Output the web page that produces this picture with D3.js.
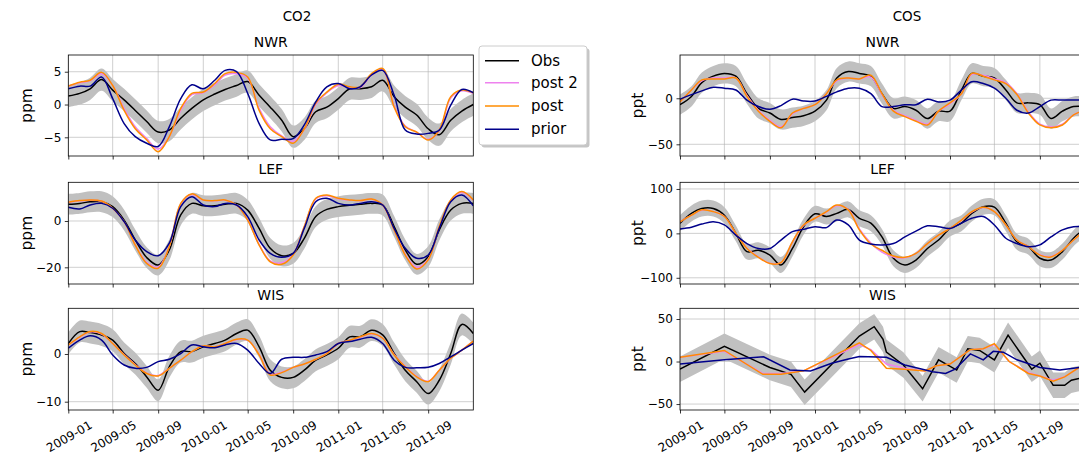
<!DOCTYPE html>
<html>
<head>
<meta charset="utf-8">
<script src="https://cdn.jsdelivr.net/npm/d3@7"></script>
<style>
  body { margin: 0; background: #fff; }
  text { font-family: "DejaVu Sans", sans-serif; fill: #000; }
</style>
</head>
<body>
<svg id="chart" width="1079" height="460"></svg>
<script>
// monthly time axis, 2009-01 .. 2012-01
var months = d3.timeMonth.range(new Date(2009, 0, 1), new Date(2012, 0, 2));
var xTickLabels = ["2009-01", "2009-05", "2009-09", "2010-01", "2010-05",
  "2010-09", "2011-01", "2011-05", "2011-09"];
var seriesNames = ["Obs", "post 2", "post", "prior"];
var seriesColors = ["#000000", "#ee82ee", "#ff8c00", "#00008b"];

// ---- CO2 (ppm) ----
var co2NwrObs   = [1.3,1.7,2.4,3.8,2.2,0.7,-0.9,-2.6,-4.2,-3.9,-2.1,-0.6,0.7,1.6,2.3,2.9,3.5,1.4,-0.4,-2.4,-4.9,-3.7,-1.1,-0.4,0.9,2.4,2.4,2.7,3.7,1.2,-0.4,-1.6,-3.7,-4.6,-2.4,-1.0,0.0];
var co2NwrPost2 = [2.8,3.3,3.6,4.7,2.9,-0.6,-3.4,-5.2,-6.8,-4.9,-0.9,1.5,1.8,3.0,4.5,4.7,4.0,-0.6,-3.4,-4.8,-5.6,-3.8,0.0,1.8,2.9,2.6,2.6,4.5,5.3,-0.2,-3.3,-4.2,-5.3,-4.0,1.0,2.1,1.7];
var co2NwrPost  = [2.8,3.4,3.7,4.9,2.9,-0.9,-3.7,-5.4,-7.2,-4.9,-0.6,1.7,1.9,3.2,4.7,4.9,4.2,-0.9,-3.7,-4.9,-5.9,-3.7,0.2,1.9,3.1,2.7,2.7,4.7,5.5,-0.4,-3.4,-4.2,-5.4,-3.9,1.2,2.2,1.8];
var co2NwrPrior = [2.4,2.8,2.8,4.2,0.9,-2.9,-4.9,-5.9,-6.4,-3.4,0.9,3.0,2.4,3.7,5.2,5.0,1.7,-2.9,-5.4,-5.3,-5.2,-3.1,0.4,2.7,3.2,2.4,2.7,4.5,5.2,1.4,-3.9,-4.5,-4.4,-3.9,-0.1,2.3,1.8];

var co2LefObs   = [7.2,7.6,8.3,8.3,6.2,0.4,-8.2,-15.8,-19.0,-12.5,2.6,7.6,6.6,6.6,7.2,7.6,4.7,-3.2,-11.8,-15.0,-14.0,-7.5,1.9,5.0,6.2,6.8,7.2,7.6,6.9,-2.4,-12.5,-18.7,-15.4,-3.9,4.7,7.6,7.6];
var co2LefPost2 = [8.0,8.7,9.0,8.5,5.5,-0.3,-10.2,-17.8,-19.8,-11.0,7.4,11.4,9.0,8.7,9.0,6.9,0.5,-10.2,-17.2,-18.0,-14.4,-2.5,9.5,10.9,9.6,9.0,8.7,9.4,6.9,-3.8,-14.4,-20.0,-16.5,-2.6,8.8,12.3,9.0];
var co2LefPost  = [8.1,8.8,9.1,8.6,5.5,-0.3,-10.4,-18.3,-20.4,-11.1,7.6,11.7,9.1,8.8,9.1,6.9,0.4,-10.4,-17.6,-18.7,-14.7,-2.4,9.8,11.2,9.8,9.1,8.8,9.5,6.9,-3.9,-14.7,-20.7,-16.8,-2.4,9.1,12.7,9.1];
var co2LefPrior = [5.9,5.2,6.9,7.6,5.5,-0.3,-8.2,-13.2,-15.0,-9.6,6.2,10.5,6.9,6.2,7.6,6.9,1.9,-8.2,-14.0,-15.7,-14.0,-3.2,8.3,9.8,7.6,6.9,7.6,8.3,6.9,-3.2,-11.8,-16.1,-14.7,-3.2,8.3,11.2,6.5];

var co2WisObs   = [2.2,4.7,4.5,4.0,2.9,0.1,-2.0,-4.8,-7.6,-2.7,0.5,0.5,1.5,2.2,2.9,4.3,5.0,1.5,-3.4,-4.9,-4.9,-3.4,-1.3,-0.2,1.2,3.6,3.6,5.0,4.0,0.1,-3.4,-5.8,-8.3,-5.5,0.1,6.2,4.3];
var co2WisPost2 = [1.9,3.5,4.6,4.2,2.2,-0.1,-2.2,-4.0,-4.5,-3.0,-1.3,0.5,1.7,1.5,2.2,3.0,2.9,-0.1,-4.2,-3.8,-2.8,-2.1,-1.1,0.1,2.2,2.9,3.5,4.2,3.3,-0.1,-2.6,-4.7,-5.7,-3.4,-0.9,0.8,2.7];
var co2WisPost  = [1.9,3.6,4.7,4.3,2.2,-0.2,-2.3,-4.1,-4.6,-3.0,-1.3,0.5,1.7,1.5,2.2,3.1,2.9,-0.2,-4.4,-3.9,-2.8,-2.1,-1.1,0.1,2.2,2.9,3.6,4.3,3.3,-0.2,-2.7,-4.8,-5.8,-3.4,-0.9,0.8,2.7];
var co2WisPrior = [1.2,2.9,3.8,2.9,-0.2,-2.3,-3.0,-2.8,-1.6,-1.1,0.1,1.9,1.5,1.3,1.9,2.2,0.8,-2.0,-4.1,-1.1,-0.7,-0.7,-0.2,0.5,2.2,2.6,3.1,3.5,2.2,-1.3,-2.8,-2.9,-2.8,-2.0,-0.6,0.8,2.2];

// ---- COS (ppt) ----
var cosNwrObs   = [-7,2,17,24,27,24,5,-11,-16,-23,-21,-19,-14,-2,22,29,27,24,5,-11,-9,-13,-22,-14,-14,9,27,24,22,9,-5,-5,-7,-22,-14,-9,-9];
var cosNwrPost2 = [-4,9,19,22,22,22,3,-13,-24,-31,-17,-11,-7,5,19,22,21,23,4,-13,-19,-24,-28,-14,-6,5,26,25,21,17,5,-15,-28,-31,-28,-18,-13];
var cosNwrPost  = [-4,9,20,21,21,22,2,-14,-25,-32,-16,-11,-7,5,20,22,21,25,5,-14,-20,-25,-29,-14,-5,5,27,24,20,16,4,-16,-29,-32,-29,-18,-13];
var cosNwrPrior = [-1,4,8,12,11,9,-2,-9,-12,-8,-1,-3,-3,2,7,11,11,5,-9,-9,-7,-7,-1,-4,-2,9,18,16,11,0,-13,-16,-9,-2,-2,-2,-2];

var cosLefObs   = [23,45,56,56,41,0,-41,-38,-49,-71,-34,15,44,38,45,54,34,23,-8,-56,-71,-60,-34,-15,11,23,45,60,59,23,-19,-30,-56,-60,-41,-11,11];
var cosLefPost2 = [26,41,52,49,38,0,-33,-53,-67,-66,-20,18,34,48,62,54,10,-22,-42,-53,-55,-45,-23,-4,11,29,48,58,49,19,-15,-30,-48,-52,-38,-15,8];
var cosLefPost  = [26,41,53,49,38,0,-34,-54,-68,-66,-19,19,34,49,64,53,8,-24,-38,-51,-54,-45,-23,-4,11,30,49,59,49,19,-15,-30,-49,-53,-38,-15,8];
var cosLefPrior = [10,14,21,26,19,-4,-23,-34,-34,-15,4,9,15,13,30,19,-15,-24,-26,-23,-8,5,17,15,11,23,34,38,19,-11,-23,-30,-26,-8,8,15,15];

// WIS COS are sparse flask samples: [date, value]
var cosWisObs = [["2009-01-01",-9],["2009-05-01",18],["2009-09-01",-7],["2009-10-28",-15],["2009-12-04",-36],
  ["2010-05-01",30],["2010-06-10",41],["2010-07-04",26],["2010-07-13",11],["2010-08-28",-4],["2010-10-19",-32],
  ["2010-12-01",2],["2011-01-19",-10],["2011-02-18",15],["2011-03-22",13],["2011-05-01",2],["2011-06-07",31],
  ["2011-08-10",-9],["2011-09-01",-2],["2011-10-07",-28],["2011-11-07",-28],["2011-11-25",-22],["2011-12-16",-20]];
var cosWisPost2 = [["2009-01-01",5],["2009-05-01",12],["2009-08-13",-14],["2009-10-01",-14],["2009-12-01",-11],
  ["2010-05-01",20],["2010-06-01",14],["2010-07-13",-3],["2010-09-01",-8],["2010-10-25",-11],["2010-11-25",-5],
  ["2011-01-01",-3],["2011-02-25",14],["2011-04-01",15],["2011-05-01",20],["2011-06-10",0],["2011-08-01",-13],
  ["2011-09-01",-17],["2011-10-07",-22],["2011-11-07",-18],["2011-12-16",-7]];
var cosWisPost  = [["2009-01-01",5],["2009-05-01",13],["2009-08-13",-15],["2009-10-01",-15],["2009-12-01",-11],
  ["2010-05-01",22],["2010-06-01",13],["2010-07-13",-8],["2010-09-01",-9],["2010-10-25",-11],["2010-11-25",-5],
  ["2011-01-01",-3],["2011-02-25",14],["2011-04-01",15],["2011-05-01",21],["2011-06-10",0],["2011-08-01",-14],
  ["2011-09-01",-17],["2011-10-07",-23],["2011-11-07",-18],["2011-12-16",-7]];
var cosWisPrior = [["2009-01-01",-3],["2009-05-01",2],["2009-08-15",5.5],["2009-10-25",-10],["2009-12-20",-11],
  ["2010-02-15",-2],["2010-04-01",3],["2010-05-01",6],["2010-07-13",5],["2010-09-01",-4],["2010-11-15",-12],
  ["2010-12-20",-14],["2011-01-15",-9],["2011-02-25",9],["2011-04-01",2],["2011-04-28",12],["2011-05-25",11],
  ["2011-07-01",2],["2011-09-01",-7],["2011-10-25",-10],["2011-12-16",-7]];

// obs uncertainty (half width of grey band)
var obsErr = { co2: [1.7, 4.5, 2.3], cos: [11, 18, 15] };

var svg = d3.select("#chart");
var parseDay = d3.timeParse("%Y-%m-%d");
var parseMonth = d3.timeParse("%Y-%m");

var colX = [[68.3, 473.3], [680, 1085]];
var rowY = [[55, 156], [182.3, 284], [308.3, 410]];

var smooth = d3.curveCatmullRom.alpha(0.5);

function monthly(arr) { return arr.map((v, i) => [months[i], v]); }
function sparse(arr) { return arr.map(d => [parseDay(d[0]), d[1]]); }

var panels = [
  { col: 0, row: 0, title: "NWR", unit: "ppm", dom: [-7.85, 7.55], ticks: [-5, 0, 5], err: obsErr.co2[0],
    series: [co2NwrObs, co2NwrPost2, co2NwrPost, co2NwrPrior].map(monthly), curve: smooth },
  { col: 0, row: 1, title: "LEF", unit: "ppm", dom: [-27.2, 16.7], ticks: [-20, 0], err: obsErr.co2[1],
    series: [co2LefObs, co2LefPost2, co2LefPost, co2LefPrior].map(monthly), curve: smooth },
  { col: 0, row: 2, title: "WIS", unit: "ppm", dom: [-11.74, 9.58], ticks: [-10, 0], err: obsErr.co2[2],
    series: [co2WisObs, co2WisPost2, co2WisPost, co2WisPrior].map(monthly), curve: smooth },
  { col: 1, row: 0, title: "NWR", unit: "ppt", dom: [-62.7, 47], ticks: [-50, 0], err: obsErr.cos[0],
    series: [cosNwrObs, cosNwrPost2, cosNwrPost, cosNwrPrior].map(monthly), curve: smooth },
  { col: 1, row: 1, title: "LEF", unit: "ppt", dom: [-114, 115], ticks: [-100, 0, 100], err: obsErr.cos[1],
    series: [cosLefObs, cosLefPost2, cosLefPost, cosLefPrior].map(monthly), curve: smooth },
  { col: 1, row: 2, title: "WIS", unit: "ppt", dom: [-57, 62.6], ticks: [-50, 0, 50], err: obsErr.cos[2],
    series: [cosWisObs, cosWisPost2, cosWisPost, cosWisPrior].map(sparse), curve: d3.curveLinear }
];

var xTicks = xTickLabels.map(parseMonth);

panels.forEach(function(p, idx) {
  var x0 = colX[p.col][0], x1 = colX[p.col][1];
  var y0 = rowY[p.row][0], y1 = rowY[p.row][1];

  var x = d3.scaleTime().domain([new Date(2009, 0, 1), new Date(2012, 0, 1)]).range([x0, x1]);
  var y = d3.scaleLinear().domain(p.dom).range([y1, y0]);

  var clipId = "clip" + idx;
  svg.append("clipPath").attr("id", clipId)
    .append("rect").attr("x", x0).attr("y", y0).attr("width", x1 - x0).attr("height", y1 - y0);

  // grid
  var grid = svg.append("g").attr("clip-path", `url(#${clipId})`);
  grid.selectAll(".gx").data(xTicks).enter().append("line")
    .attr("x1", d => x(d)).attr("x2", d => x(d)).attr("y1", y0).attr("y2", y1)
    .attr("stroke", "#b0b0b0").attr("stroke-width", 0.8).attr("opacity", 0.75);
  grid.selectAll(".gy").data(p.ticks).enter().append("line")
    .attr("x1", x0).attr("x2", x1).attr("y1", d => y(d)).attr("y2", d => y(d))
    .attr("stroke", "#b0b0b0").attr("stroke-width", 0.8).attr("opacity", 0.75);

  var plot = svg.append("g").attr("clip-path", `url(#${clipId})`);

  // obs uncertainty band
  var band = d3.area().curve(p.curve)
    .x(d => x(d[0])).y0(d => y(d[1] - p.err)).y1(d => y(d[1] + p.err));
  plot.append("path").datum(p.series[0]).attr("d", band).attr("fill", "#c0c0c0");

  var line = d3.line().curve(p.curve).x(d => x(d[0])).y(d => y(d[1]));
  p.series.forEach(function(s, i) {
    plot.append("path").datum(s).attr("d", line)
      .attr("fill", "none").attr("stroke", seriesColors[i]).attr("stroke-width", 1.5);
  });

  // frame
  svg.append("rect").attr("x", x0).attr("y", y0).attr("width", x1 - x0).attr("height", y1 - y0)
    .attr("fill", "none").attr("stroke", "#000").attr("stroke-width", 0.8);

  // axes
  var yAxis = svg.append("g").attr("transform", `translate(${x0},0)`)
    .call(d3.axisLeft(y).tickValues(p.ticks).tickSize(3.5).tickPadding(3.5));
  yAxis.select(".domain").remove();
  yAxis.selectAll("text").attr("font-size", 12).attr("font-family", "DejaVu Sans");
  yAxis.selectAll("line").attr("stroke-width", 0.8);

  var xAxis = svg.append("g").attr("transform", `translate(0,${y1})`)
    .call(d3.axisBottom(x).tickValues(xTicks).tickSize(3.5).tickFormat(""));
  xAxis.select(".domain").remove();
  xAxis.selectAll("line").attr("stroke-width", 0.8);

  if (p.row === 2) {
    xTicks.forEach(function(t, i) {
      var lbl = svg.append("text").attr("font-size", 12)
        .attr("text-anchor", "middle").attr("dominant-baseline", "central")
        .text(xTickLabels[i]);
      var w = lbl.node().getComputedTextLength();
      var h = 14;
      var bh = w * 0.5 + h * 0.866;
      var cx = x(t) + 1, cy = y1 + 8 + bh / 2;
      lbl.attr("x", cx).attr("y", cy).attr("transform", `rotate(-30,${cx},${cy})`);
    });
  }

  // subplot title
  svg.append("text").attr("x", (x0 + x1) / 2).attr("y", y0 - 8)
    .attr("text-anchor", "middle").attr("font-size", 14).text(p.title);

  // y label
  var lx = p.col === 0 ? 27 : 638;
  svg.append("text").attr("transform", `translate(${lx},${(y0 + y1) / 2}) rotate(-90)`)
    .attr("text-anchor", "middle").attr("dominant-baseline", "central")
    .attr("font-size", 15.5).text(p.unit);
});

// column titles
svg.append("text").attr("x", 297).attr("y", 21).attr("text-anchor", "middle")
  .attr("font-size", 13.5).text("CO2");
svg.append("text").attr("x", 907).attr("y", 21).attr("text-anchor", "middle")
  .attr("font-size", 13.5).text("COS");

// legend
var lg = svg.append("g");
lg.append("rect").attr("x", 481.5).attr("y", 48.5).attr("width", 108).attr("height", 99)
  .attr("rx", 3).attr("fill", "#8c8c8c").attr("opacity", 0.5);
lg.append("rect").attr("x", 479).attr("y", 46).attr("width", 108).attr("height", 99)
  .attr("rx", 3).attr("fill", "#fff").attr("stroke", "#cccccc").attr("stroke-width", 1);
var rowsY = [60.7, 82.7, 106, 129.3];
seriesNames.forEach(function(n, i) {
  lg.append("line").attr("x1", 485).attr("x2", 519).attr("y1", rowsY[i]).attr("y2", rowsY[i])
    .attr("stroke", seriesColors[i]).attr("stroke-width", 1.5);
  lg.append("text").attr("x", 531).attr("y", rowsY[i]).attr("dominant-baseline", "central")
    .attr("font-size", 15).text(n);
});
</script>
</body>
</html>
